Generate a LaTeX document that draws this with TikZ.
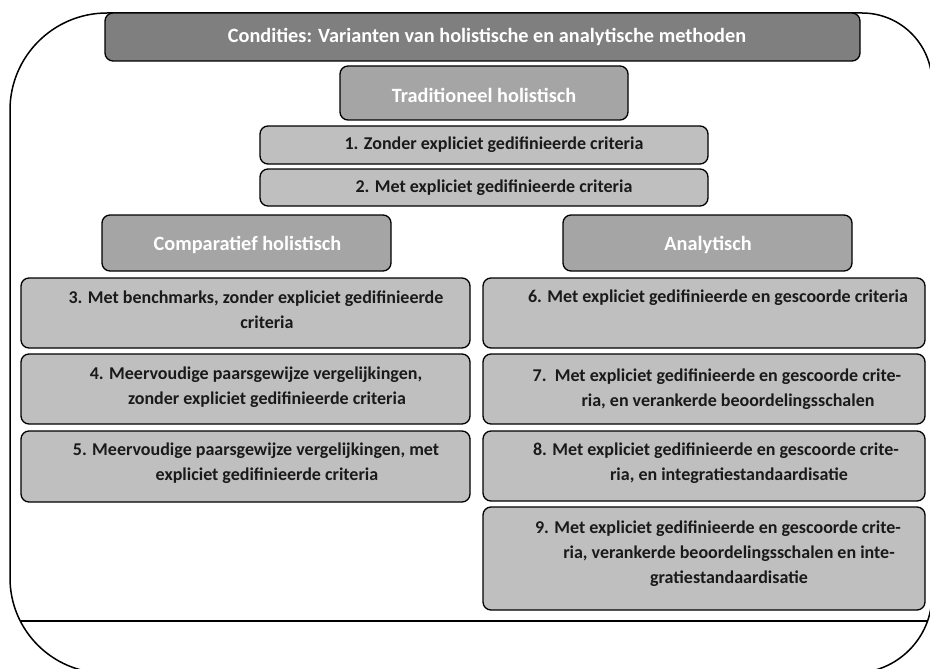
\documentclass[tikz,border=0pt]{standalone}
\usepackage{fontspec}
\setmainfont{Carlito}
\definecolor{titlegray}{HTML}{7F7F7F}
\definecolor{headgray}{HTML}{A5A5A5}
\definecolor{boxgray}{HTML}{BFBFBF}
\definecolor{txtdark}{HTML}{1A1A1A}
\tikzset{
  x=1pt, y=-1pt,
  basebox/.style={draw=black, line width=1.3pt, rounded corners=8pt, inner sep=0pt},
  titlebox/.style={basebox, fill=titlegray},
  headbox/.style={basebox, fill=headgray},
  itembox/.style={basebox, fill=boxgray},
  headtxt/.style={text=white, font=\fontsize{20.3}{24}\selectfont\bfseries, inner sep=0pt},
  itemtxt/.style={text=txtdark, font=\fontsize{18}{25}\selectfont\bfseries, align=center, inner sep=0pt},
}
\begin{document}
\begin{tikzpicture}
\useasboundingbox (0,0) rectangle (930,669);
\clip (0,0) rectangle (930,669);
\def\outline{(10,110) arc[start angle=180, end angle=270, radius=97] -- (862,13)
  arc[start angle=270, end angle=360, radius=70] -- (932,595)
  arc[start angle=0, end angle=90, radius=78] -- (105,673)
  arc[start angle=90, end angle=180, radius=95] -- cycle}
\draw[line width=1.5pt] \outline;
\begin{scope}
  \clip \outline;
  \draw[line width=1.5pt] (0,621) -- (940,621);
\end{scope}

% headings
\node[titlebox, minimum width=755pt, minimum height=48pt] (title) at (482.5,37) {};
\node[headtxt] (titlet) at (487,37) {Condities: Varianten van holistische en analytische methoden};

\node[headbox, minimum width=288pt, minimum height=54pt] (trad) at (484,93) {};
\node[headtxt] (tradt) at (484,95) {Traditioneel holistisch};

\node[itembox, minimum width=448pt, minimum height=38pt] (b1) at (484,145) {};
\node[itemtxt] (t1) at (494,145) {1. Zonder expliciet gedifinieerde criteria};
\node[itembox, minimum width=448pt, minimum height=37pt] (b2) at (484,187.5) {};
\node[itemtxt] (t2) at (494,187.5) {2. Met expliciet gedifinieerde criteria};

\node[headbox, minimum width=289pt, minimum height=56pt] (comp) at (246.5,243) {};
\node[headtxt] (compt) at (247.5,245) {Comparatief holistisch};
\node[headbox, minimum width=289pt, minimum height=56pt] (anal) at (707.5,243) {};
\node[headtxt] (analt) at (708,245) {Analytisch};

% left column
\node[itembox, minimum width=449pt, minimum height=70pt] (b3) at (245.5,313) {};
\node[itemtxt] (t3) at (256,310) {3. Met benchmarks, zonder expliciet gedifinieerde\\\hspace*{22pt}criteria};
\node[itembox, minimum width=449pt, minimum height=70pt] (b4) at (245.5,389) {};
\node[itemtxt] (t4) at (256,387) {4. Meervoudige paarsgewijze vergelijkingen,\\\hspace*{22pt}zonder expliciet gedifinieerde criteria};
\node[itembox, minimum width=449pt, minimum height=71pt] (b5) at (245.5,466.5) {};
\node[itemtxt] (t5) at (256,463) {5. Meervoudige paarsgewijze vergelijkingen, met\\\hspace*{22pt}expliciet gedifinieerde criteria};

% right column
\node[itembox, minimum width=442pt, minimum height=70pt] (b6) at (704,313) {};
\node[itemtxt] (t6) at (718,298) {6. Met expliciet gedifinieerde en gescoorde criteria};
\node[itembox, minimum width=442pt, minimum height=70pt] (b7) at (704,389) {};
\node[itemtxt] (t7) at (717,389) {7.\ \ Met expliciet gedifinieerde en gescoorde crite-\\\hspace*{22pt}ria, en verankerde beoordelingsschalen};
\node[itembox, minimum width=442pt, minimum height=70pt] (b8) at (704,466) {};
\node[itemtxt] (t8) at (716,463) {8. Met expliciet gedifinieerde en gescoorde crite-\\\hspace*{26pt}ria, en integratiestandaardisatie};
\node[itembox, minimum width=442pt, minimum height=103pt] (b9) at (704,558.5) {};
\node[itemtxt] (t9) at (718,554) {9. Met expliciet gedifinieerde en gescoorde crite-\\\hspace*{22pt}ria, verankerde beoordelingsschalen en inte-\\\hspace*{22pt}gratiestandaardisatie};
\end{tikzpicture}
\end{document}
